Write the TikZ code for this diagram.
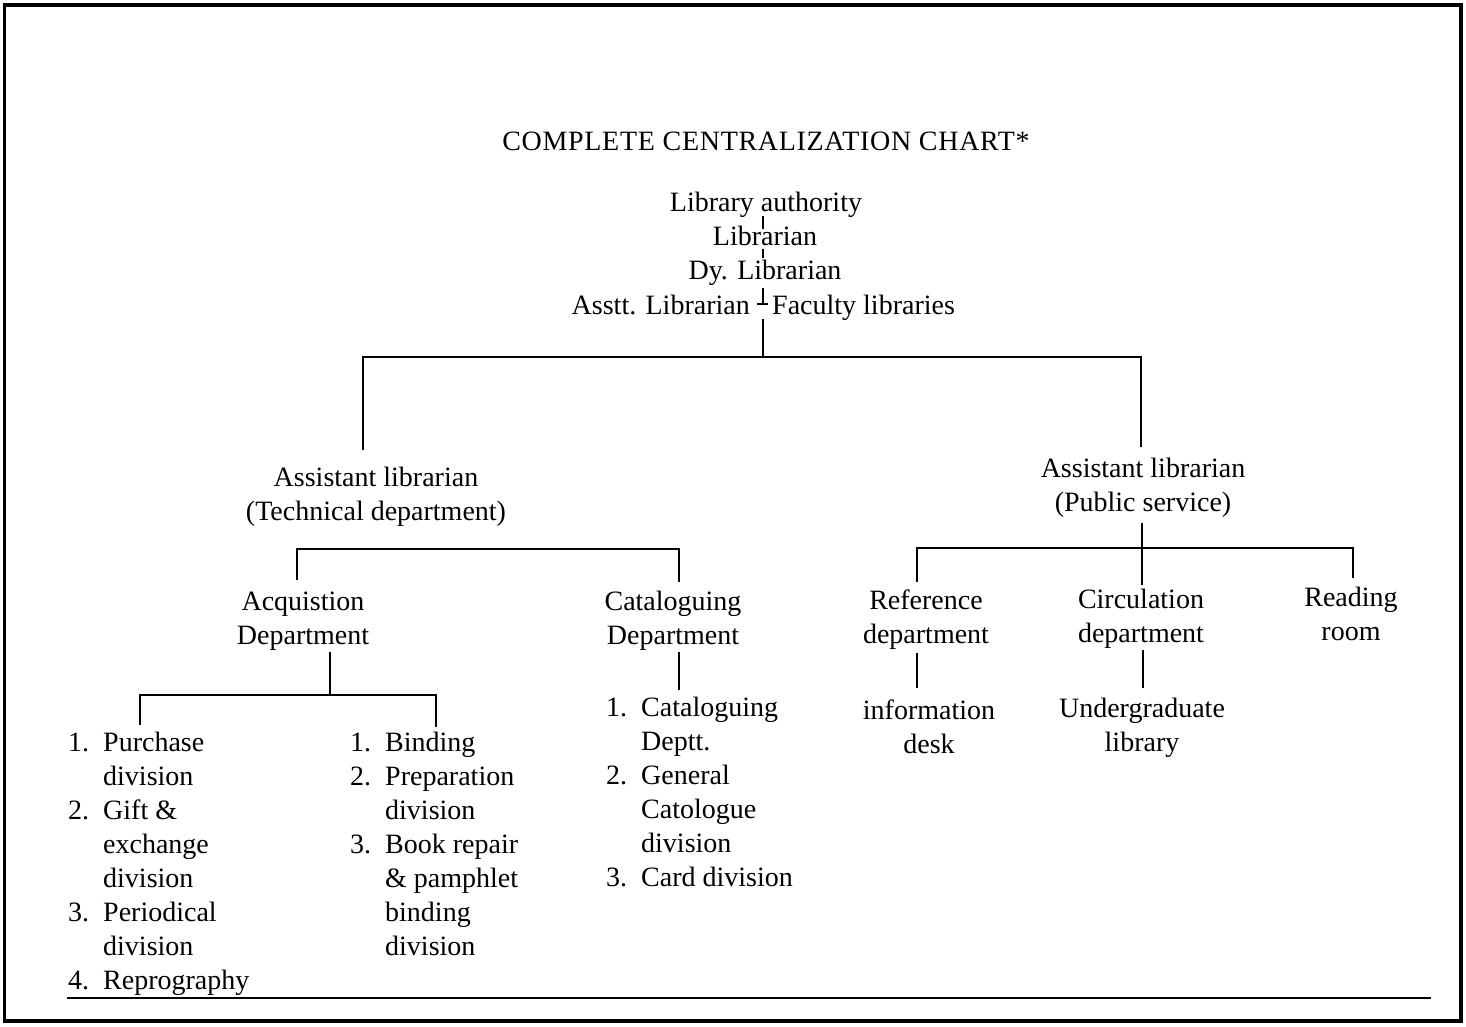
\documentclass[tikz,border=0pt]{standalone}
\usepackage{fontspec}
\setmainfont{Liberation Serif}
\newfontfamily\titlefont[LetterSpace=2.5]{Liberation Serif}
\newcommand{\nb}[1]{\makebox[35pt][l]{#1}}
\begin{document}
\begin{tikzpicture}[x=1pt,y=-1pt,
  lbl/.style={inner sep=0pt, anchor=base, font=\fontsize{28}{34}\selectfont},
  lst/.style={inner sep=0pt, anchor=base west, font=\fontsize{28}{34}\selectfont},
  conn/.style={line width=2pt},
  tick/.style={line width=1.4pt}]
\useasboundingbox (0,0) rectangle (1466,1026);
\draw[line width=3.5pt] (4.5,5) rectangle (1461,1021);
\coordinate (rl) at (67,998);
\coordinate (rr) at (1431,998);
\draw[line width=2pt] (rl) -- (rr);

% top chain
\node[lbl, font=\titlefont\fontsize{28}{34}\selectfont] (title) at (766,150) {COMPLETE CENTRALIZATION CHART*};
\node[lbl] (la) at (766,211) {Library authority};
\node[lbl] (lib) at (765,245) {Librarian};
\node[lbl] (dy) at (765,279) {Dy. Librarian};
\node[lbl, anchor=base east] (asst) at (750,314) {Asstt. Librarian};
\node[lbl, anchor=base west] (fac) at (772,314) {Faculty libraries};
\coordinate (t1a) at (763,216); \coordinate (t1b) at (763,229);
\coordinate (t2a) at (763,249); \coordinate (t2b) at (763,258);
\coordinate (t3a) at (763,288); \coordinate (t3b) at (763,304);
\coordinate (d1) at (757,304); \coordinate (d2) at (768,304);
\draw[tick] (t1a) -- (t1b);
\draw[tick] (t2a) -- (t2b);
\draw[tick] (t3a) -- (t3b);
\draw[tick] (d1) -- (d2);

% main split
\coordinate (m0) at (763,319);
\coordinate (m1) at (763,357);
\coordinate (ml) at (363,357);
\coordinate (mr) at (1141,357);
\coordinate (mlb) at (363,450);
\coordinate (mrb) at (1141,447);
\draw[conn] (m0) -- (m1);
\draw[conn] (mlb) -- (ml) -- (mr) -- (mrb);

\node[lbl] (tech) at (376,486) {\begin{tabular}[t]{@{}c@{}}Assistant librarian\\(Technical department)\end{tabular}};
\node[lbl] (pub) at (1143,477) {\begin{tabular}[t]{@{}c@{}}Assistant librarian\\(Public service)\end{tabular}};

% technical split
\coordinate (tl) at (297,549); \coordinate (tr) at (679,549);
\coordinate (tlb) at (297,580); \coordinate (trb) at (679,582);
\draw[conn] (tlb) -- (tl) -- (tr) -- (trb);

% public split
\coordinate (p0) at (1142,523); \coordinate (pc) at (1142,548); \coordinate (pcb) at (1142,585);
\coordinate (pl) at (917,548); \coordinate (pr) at (1353,548);
\coordinate (plb) at (917,582); \coordinate (prb) at (1353,578);
\draw[conn] (p0) -- (pcb);
\draw[conn] (plb) -- (pl) -- (pr) -- (prb);

\node[lbl] (acq) at (303,610) {\begin{tabular}[t]{@{}c@{}}Acquistion\\Department\end{tabular}};
\node[lbl] (cat) at (673,610) {\begin{tabular}[t]{@{}c@{}}Cataloguing\\Department\end{tabular}};
\node[lbl] (ref) at (926,609) {\begin{tabular}[t]{@{}c@{}}Reference\\department\end{tabular}};
\node[lbl] (circ) at (1141,608) {\begin{tabular}[t]{@{}c@{}}Circulation\\department\end{tabular}};
\node[lbl] (read) at (1351,606) {\begin{tabular}[t]{@{}c@{}}Reading\\room\end{tabular}};

% acquisition split
\coordinate (a0) at (330,652); \coordinate (a1) at (330,695);
\coordinate (al) at (140,695); \coordinate (ar) at (436,695);
\coordinate (alb) at (140,725); \coordinate (arb) at (436,727);
\draw[conn] (a0) -- (a1);
\draw[conn] (alb) -- (al) -- (ar) -- (arb);

\coordinate (c0) at (679,652); \coordinate (c1) at (679,690);
\draw[conn] (c0) -- (c1);
\coordinate (r0) at (917,653); \coordinate (r1) at (917,688);
\draw[conn] (r0) -- (r1);
\coordinate (u0) at (1143,650); \coordinate (u1) at (1143,688);
\draw[conn] (u0) -- (u1);

\node[lbl] (info) at (929,719) {\begin{tabular}[t]{@{}c@{}}information\\desk\end{tabular}};
\node[lbl] (ug) at (1142,717) {\begin{tabular}[t]{@{}c@{}}Undergraduate\\library\end{tabular}};

% lists
\node[lst] (l1) at (68,751) {\begin{tabular}[t]{@{}l@{}l@{}}
\nb{1.}&Purchase\\ &division\\
\nb{2.}&Gift \&\\ &exchange\\ &division\\
\nb{3.}&Periodical\\ &division\\
\nb{4.}&Reprography\end{tabular}};
\node[lst] (l2) at (350,751) {\begin{tabular}[t]{@{}l@{}l@{}}
\nb{1.}&Binding\\
\nb{2.}&Preparation\\ &division\\
\nb{3.}&Book repair\\ &\& pamphlet\\ &binding\\ &division\end{tabular}};
\node[lst] (l3) at (606,716) {\begin{tabular}[t]{@{}l@{}l@{}}
\nb{1.}&Cataloguing\\ &Deptt.\\
\nb{2.}&General\\ &Catologue\\ &division\\
\nb{3.}&Card division\end{tabular}};
\end{tikzpicture}
\end{document}
